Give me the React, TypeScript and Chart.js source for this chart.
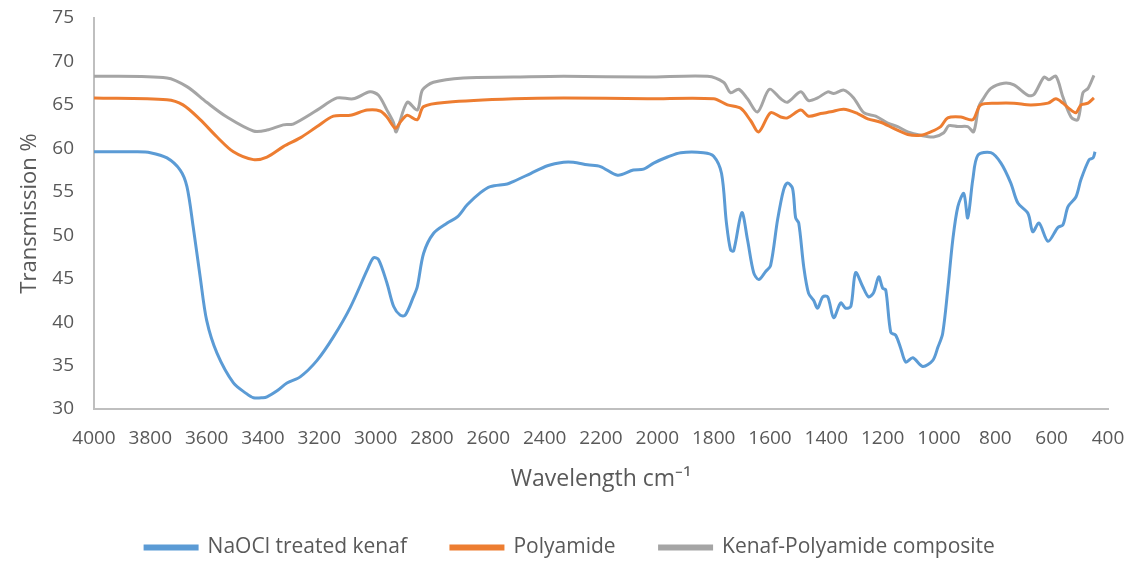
import React, { useEffect, useRef } from "react";
import { Chart, registerables } from "chart.js";

Chart.register(...registerables);

const kenafWave = [4000, 3850, 3800, 3741, 3694, 3670, 3648, 3623, 3600, 3563, 3505, 3460, 3434, 3400, 3386, 3350, 3315, 3268, 3208, 3150, 3090, 3030, 3008, 2990, 2960, 2936, 2913, 2895, 2866, 2852, 2830, 2795, 2746, 2710, 2675, 2628, 2593, 2533, 2510, 2450, 2390, 2333, 2298, 2248, 2202, 2141, 2085, 2049, 2013, 1964, 1917, 1836, 1800, 1772, 1755, 1740, 1729, 1700, 1680, 1658, 1640, 1616, 1598, 1573, 1552, 1538, 1520, 1509, 1498, 1480, 1463, 1445, 1431, 1413, 1395, 1374, 1349, 1331, 1313, 1296, 1271, 1250, 1232, 1214, 1200, 1189, 1171, 1154, 1136, 1118, 1093, 1058, 1022, 1004, 987, 969, 951, 933, 912, 898, 880, 862, 816, 780, 745, 720, 684, 667, 645, 613, 578, 560, 542, 514, 496, 467, 453, 446];
const kenafValues = [59.6, 59.6, 59.5, 58.9, 57.5, 55.6, 51, 45.2, 40.2, 36.4, 33, 31.8, 31.3, 31.3, 31.4, 32.1, 33, 33.7, 35.6, 38.3, 41.7, 46, 47.4, 47.2, 44.5, 41.8, 40.8, 40.8, 42.9, 44.1, 47.9, 50.2, 51.4, 52.1, 53.5, 54.9, 55.6, 55.9, 56.2, 57.1, 58, 58.4, 58.4, 58.1, 57.9, 56.9, 57.5, 57.6, 58.3, 59, 59.5, 59.5, 59.1, 57.1, 51.5, 48.3, 48.2, 52.6, 49.5, 45.7, 44.9, 45.8, 46.5, 51.8, 55.2, 56, 55.4, 52, 51.4, 46.3, 43.3, 42.5, 41.6, 42.9, 42.9, 40.5, 42.2, 41.6, 41.8, 45.7, 44.1, 42.9, 43.4, 45.2, 43.9, 43.7, 38.8, 38.5, 37, 35.4, 35.9, 34.9, 35.6, 37.1, 38.7, 43.7, 49.5, 53.3, 54.8, 52, 56.4, 59.2, 59.5, 58.3, 56, 53.7, 52.5, 50.4, 51.4, 49.3, 50.9, 51.2, 53.3, 54.4, 56.4, 58.7, 58.9, 59.6];

const polyWave = [4000, 3741, 3684, 3623, 3563, 3505, 3434, 3386, 3328, 3268, 3208, 3150, 3090, 3030, 2984, 2960, 2930, 2913, 2888, 2852, 2830, 2746, 2510, 2333, 2035, 1800, 1751, 1704, 1669, 1640, 1598, 1562, 1538, 1491, 1463, 1420, 1384, 1338, 1289, 1253, 1207, 1161, 1111, 1065, 1029, 994, 969, 922, 880, 852, 791, 734, 674, 613, 585, 560, 539, 514, 496, 471, 450];
const polyValues = [65.8, 65.6, 65, 63.3, 61.3, 59.6, 58.7, 59, 60.2, 61.2, 62.5, 63.7, 63.8, 64.4, 64.3, 63.6, 62.3, 63, 63.8, 63.3, 64.8, 65.3, 65.7, 65.8, 65.7, 65.7, 65, 64.6, 63.2, 61.9, 64.1, 63.6, 63.5, 64.4, 63.7, 64, 64.2, 64.5, 64, 63.4, 63, 62.3, 61.6, 61.5, 61.9, 62.5, 63.5, 63.6, 63.3, 65, 65.2, 65.2, 65, 65.2, 65.7, 65.2, 64.6, 64.1, 65, 65.2, 65.8];

const compWave = [4000, 3741, 3670, 3600, 3528, 3434, 3386, 3328, 3293, 3208, 3137, 3080, 3020, 2990, 2960, 2937, 2927, 2888, 2852, 2834, 2795, 2689, 2510, 2333, 2035, 1822, 1765, 1740, 1711, 1680, 1644, 1602, 1562, 1538, 1491, 1463, 1431, 1395, 1374, 1338, 1303, 1267, 1225, 1182, 1147, 1111, 1065, 1019, 983, 965, 933, 898, 877, 859, 845, 816, 770, 734, 684, 663, 627, 610, 585, 560, 531, 507, 489, 471, 450];
const compValues = [68.3, 68.1, 67.1, 65.3, 63.6, 62, 62.1, 62.7, 62.8, 64.4, 65.8, 65.7, 66.5, 66.1, 64.4, 63, 61.9, 65.3, 64.4, 66.7, 67.6, 68.1, 68.2, 68.3, 68.2, 68.3, 67.6, 66.4, 66.8, 65.7, 64.2, 66.8, 65.7, 65.3, 66.5, 65.5, 65.8, 66.5, 66.3, 66.7, 65.8, 64.1, 63.7, 62.9, 62.5, 61.9, 61.5, 61.3, 61.8, 62.6, 62.5, 62.5, 61.9, 64.8, 65.6, 66.9, 67.5, 67.3, 66.1, 66.2, 68.2, 67.9, 68.3, 65.9, 63.6, 63.3, 66.4, 66.9, 68.4];

const seriesNames = ["NaOCl treated kenaf", "Polyamide", "Kenaf-Polyamide composite"];
const seriesColors = ["#5B9BD5", "#ED7D31", "#A5A5A5"];

const xMin = 400;
const xMax = 4000;
const xStep = 200;
const yMin = 30;
const yMax = 75;
const yStep = 5;

const toPoints = (xs: number[], ys: number[]) => xs.map((x, i) => ({ x, y: ys[i] }));

export default function App() {
  const ref = useRef<HTMLCanvasElement | null>(null);

  useEffect(() => {
    if (!ref.current) return;
    const FONT = "'Open Sans', 'Liberation Sans', sans-serif";
    const TEXT = "#595959";
    const datasets = [
      toPoints(kenafWave, kenafValues),
      toPoints(polyWave, polyValues),
      toPoints(compWave, compValues),
    ].map((data, i) => ({
      label: seriesNames[i],
      data,
      borderColor: seriesColors[i],
      backgroundColor: seriesColors[i],
      borderWidth: 3,
      pointRadius: 0,
      tension: 0.3,
      fill: false,
    }));

    const chart = new Chart(ref.current, {
      type: "line",
      data: { datasets },
      options: {
        animation: false,
        responsive: false,
        maintainAspectRatio: false,
        layout: { padding: { top: 18, right: 25, bottom: -6, left: 32 } },
        plugins: {
          tooltip: { enabled: false },
          legend: {
            position: "bottom",
            labels: {
              font: { family: FONT, size: 21 },
              color: TEXT,
              boxWidth: 52,
              boxHeight: 3,
              padding: 44,
            },
          },
        },
        scales: {
          x: {
            type: "linear",
            reverse: true,
            min: xMin,
            max: xMax,
            afterFit: (s: any) => {
              s.height = 84;
            },
            ticks: {
              stepSize: xStep,
              autoSkip: false,
              maxRotation: 0,
              padding: 2,
              color: TEXT,
              font: { family: FONT, size: 19 },
              callback: (v: any) => String(v),
            },
            grid: {
              display: true,
              drawOnChartArea: false,
              drawTicks: true,
              tickLength: 16,
              tickColor: "rgba(0,0,0,0)",
            },
            border: { display: true, color: "#BFBFBF", width: 2 },
            title: {
              display: true,
              text: "Wavelength cm\u207B\u00B9",
              color: TEXT,
              font: { family: FONT, size: 23 },
              padding: { top: 4, bottom: 0 },
            },
          },
          y: {
            min: yMin,
            max: yMax,
            afterFit: (s: any) => {
              s.width = 62;
            },
            ticks: {
              stepSize: yStep,
              padding: 2,
              color: TEXT,
              font: { family: FONT, size: 19 },
              callback: (v: any) => String(v),
            },
            grid: {
              display: true,
              drawOnChartArea: false,
              drawTicks: true,
              tickLength: 18,
              tickColor: "rgba(0,0,0,0)",
            },
            border: { display: true, color: "#BFBFBF", width: 2 },
            title: {
              display: true,
              text: "Transmission %",
              color: TEXT,
              font: { family: FONT, size: 22 },
              padding: { top: -15, bottom: 0 },
            },
          },
        },
      },
    } as any);
    return () => chart.destroy();
  }, []);

  return (
    <div style={{ position: "fixed", left: 0, top: 0, width: 1133, height: 562, background: "#fff", overflow: "hidden" }}>
      <canvas ref={ref} width={1133} height={562} style={{ width: 1133, height: 562, display: "block" }} />
    </div>
  );
}
